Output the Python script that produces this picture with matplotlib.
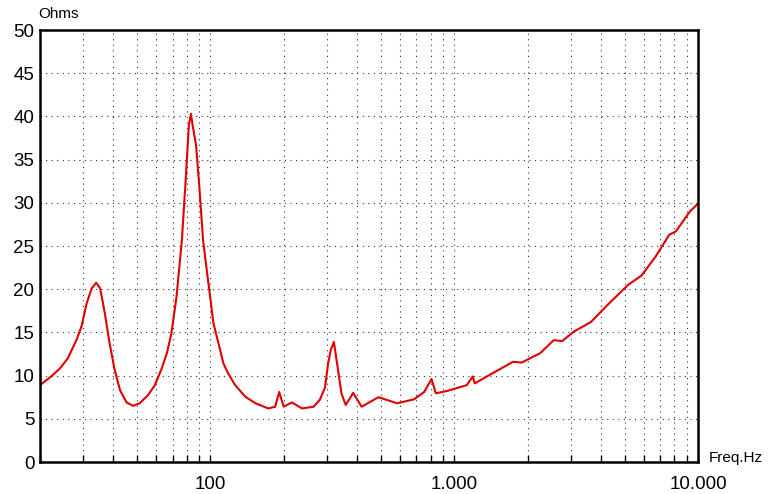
import matplotlib
matplotlib.use("Agg")
import matplotlib.pyplot as plt
from matplotlib.ticker import FixedLocator, NullFormatter, FixedFormatter

freq_pts = [20, 22.2, 24.1, 26.0, 28.2, 29.6, 31.1, 32.6, 34.0, 35.3,
            36.9, 38.6, 40.5, 42.6, 45.3, 48.2, 51.3, 55.5, 59.2, 63.1,
            66.3, 69.2, 72.6, 76.4, 79.4, 81.6, 83.2, 84.5, 87.3, 90,
            93.3, 96.6, 99.8, 102.9, 108, 113.1, 118, 126.3, 139.1, 153,
            172.9, 184.3, 191.5, 199.7, 215.9, 237.5, 265, 281, 295, 304,
            312, 321, 334, 345, 359, 385, 417, 489, 583, 684,
            753, 807, 841, 943, 1126, 1191, 1214, 1442, 1744, 1888,
            2253, 2560, 2773, 3099, 3637, 4262, 5170, 5875, 6708, 7622,
            8119, 9266, 10000]
ohm_pts = [8.9, 9.9, 10.8, 12.0, 14.1, 15.7, 18.4, 20.1, 20.75, 20.1,
           17.2, 13.7, 10.65, 8.3, 6.9, 6.5, 6.8, 7.75, 8.9, 10.8,
           12.6, 14.9, 19.1, 25.7, 33.2, 39.0, 40.3, 39.0, 36.7, 32.0,
           25.7, 22.2, 19.1, 16.05, 13.7, 11.4, 10.3, 8.9, 7.55, 6.8,
           6.2, 6.4, 8.1, 6.4, 6.9, 6.2, 6.4, 7.2, 8.6, 11.4,
           13.0, 13.9, 10.6, 7.9, 6.6, 8.0, 6.4, 7.5, 6.8, 7.25,
           8.1, 9.6, 7.95, 8.25, 8.9, 9.9, 9.1, 10.3, 11.6, 11.5,
           12.6, 14.1, 14.0, 15.1, 16.2, 18.2, 20.5, 21.6, 23.8, 26.3,
           26.7, 29.0, 29.9]

x_tick_vals = [100, 1000, 10000]
x_tick_labels = ["100", "1.000", "10.000"]
y_ticks = [0, 5, 10, 15, 20, 25, 30, 35, 40, 45, 50]

plt.rcParams['font.family'] = ['Liberation Sans', 'DejaVu Sans']

fig = plt.figure(figsize=(7.78, 4.94), dpi=100)
ax = fig.add_axes([40/778, 32/494, 658/778, 432/494])

ax.plot(freq_pts, ohm_pts, color="#e00000", lw=1.5)

ax.set_xscale("log")
ax.set_xlim(20, 10000)
ax.set_ylim(0, 50)

minor = [m * d for d in (10, 100, 1000) for m in range(2, 10) if 20 <= m * d <= 10000]
ax.xaxis.set_major_locator(FixedLocator(x_tick_vals))
ax.xaxis.set_major_formatter(FixedFormatter(x_tick_labels))
ax.xaxis.set_minor_locator(FixedLocator(minor))
ax.xaxis.set_minor_formatter(NullFormatter())
ax.set_yticks(y_ticks)

ax.grid(True, which="both", axis="x", color="#333333", linestyle=(0, (1, 4)), lw=0.8)
ax.grid(True, which="major", axis="y", color="#333333", linestyle=(0, (1, 4)), lw=0.8)

for s in ax.spines.values():
    s.set_linewidth(1.8)

ax.tick_params(axis="x", which="both", direction="in", length=5, width=1, labelsize=13.5, pad=10)
ax.tick_params(axis="y", which="major", direction="in", length=0, labelsize=13.5, pad=4)

fig.text(38/778, 1 - 14/494, "Ohms", fontsize=11, va="center", ha="left")
fig.text(709/778, 1 - 458/494, "Freq.Hz", fontsize=11, va="center", ha="left")

fig.savefig("out.png", dpi=100)
